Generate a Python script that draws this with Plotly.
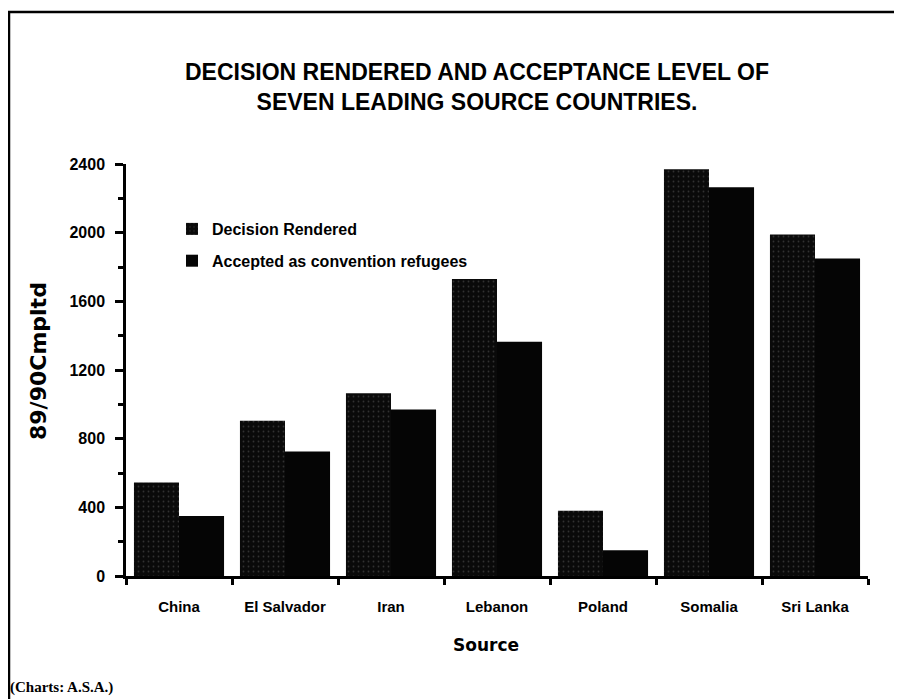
import plotly.graph_objects as go

countries = ["China", "El Salvador", "Iran", "Lebanon", "Poland", "Somalia", "Sri Lanka"]
decision_rendered = [545, 905, 1065, 1730, 380, 2370, 1990]
accepted = [350, 725, 970, 1365, 150, 2265, 1850]
y_ticks = [0, 400, 800, 1200, 1600, 2000, 2400]

# page has an 8px body margin, so figure coords = screen coords - 8
OFF = 8
W, H = 894, 691
L, R, T, B = 118, 34, 156, 123
PW, PH = W - L - R, H - T - B

def px(x):
    return (x - OFF - L) / PW

def py(y):
    return (H - B - (y - OFF)) / PH

sans = "Liberation Sans, Arial, Helvetica, sans-serif"

fig = go.Figure()
fig.add_trace(go.Bar(
    x=countries, y=decision_rendered, name="Decision Rendered", legendgroup="a",
    marker=dict(color="#0a0a0a", line=dict(width=0),
                pattern=dict(shape=".", fgcolor="#5a5a5a", bgcolor="#0a0a0a", size=5, solidity=0.1)),
))
fig.add_trace(go.Bar(
    x=countries, y=accepted, name="Accepted as convention refugees", legendgroup="b",
    marker=dict(color="#050505", line=dict(width=0)),
))

fig.update_layout(
    width=W, height=H,
    margin=dict(l=L, r=R, t=T, b=B, autoexpand=False),
    paper_bgcolor="white", plot_bgcolor="white",
    barmode="group", bargap=0.15, bargroupgap=0,
    showlegend=True,
    legend=dict(x=px(172), y=py(212), xanchor="left", yanchor="top",
                bgcolor="rgba(0,0,0,0)", tracegroupgap=8, itemwidth=30,
                font=dict(family=sans, size=16, color="black", weight="bold"),
                itemclick=False),
    font=dict(family=sans, color="black"),
)

fig.update_xaxes(
    type="category", range=[-0.5, 6.5],
    showline=True, linecolor="black", linewidth=2.5,
    ticks="outside", tickson="boundaries", ticklen=6, tickwidth=2.5, tickcolor="black",
    tickfont=dict(family=sans, size=15, color="black", weight="bold"),
    ticklabelstandoff=15, showgrid=False, zeroline=False,
)
fig.update_yaxes(
    range=[0, 2400], tickvals=y_ticks, ticktext=[str(v) for v in y_ticks],
    showline=True, linecolor="black", linewidth=2.5,
    ticks="outside", ticklen=8, tickwidth=2.5, tickcolor="black",
    minor=dict(ticks="outside", ticklen=5, tickwidth=2.5, tickcolor="black", dtick=200, showgrid=False),
    tickfont=dict(family=sans, size=16, color="black", weight="bold"),
    ticklabelstandoff=7, showgrid=False, zeroline=False,
)

annotations = [
    dict(text="DECISION RENDERED AND ACCEPTANCE LEVEL OF<br>SEVEN LEADING SOURCE COUNTRIES.",
         x=px(477), y=py(87), xref="paper", yref="paper", showarrow=False,
         xanchor="center", yanchor="middle",
         font=dict(family=sans, size=23, color="black", weight="bold")),
    dict(text="Source", x=px(486), y=py(645), xref="paper", yref="paper", showarrow=False,
         xanchor="center", yanchor="middle",
         font=dict(family="DejaVu Sans, sans-serif", size=17, color="black", weight="bold")),
    dict(text="89/90Cmpltd", x=px(38), y=py(361), xref="paper", yref="paper", showarrow=False,
         xanchor="center", yanchor="middle", textangle=-90,
         font=dict(family="DejaVu Sans, sans-serif", size=22, color="black", weight="bold")),
    dict(text="(Charts: A.S.A.)", x=px(8), y=py(687), xref="paper", yref="paper", showarrow=False,
         xanchor="left", yanchor="middle",
         font=dict(family="Liberation Serif, Times New Roman, serif", size=15, color="black", weight="bold")),
]
fig.update_layout(annotations=annotations)

shapes = [
    dict(type="line", xref="paper", yref="paper", x0=px(8), x1=px(902), y0=py(12), y1=py(12),
         line=dict(color="black", width=2.5)),
    dict(type="line", xref="paper", yref="paper", x0=px(9), x1=px(9), y0=py(12), y1=py(699),
         line=dict(color="black", width=2.5)),
]
fig.update_layout(shapes=shapes)

fig.write_html("out.html")
